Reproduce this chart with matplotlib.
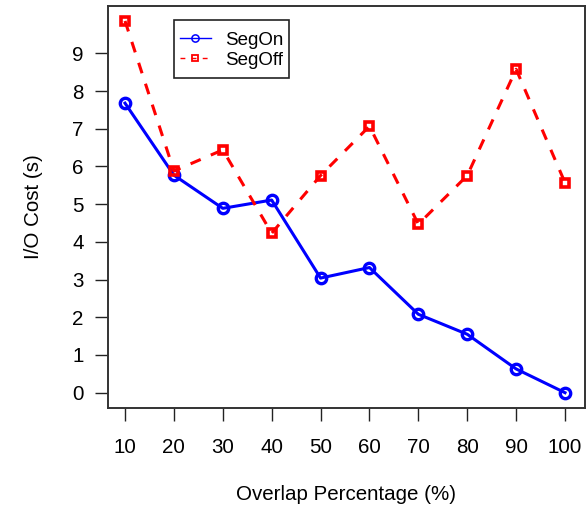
import matplotlib
matplotlib.use("Agg")
import matplotlib.pyplot as plt
from matplotlib.lines import Line2D
from matplotlib.path import Path

overlap = [10, 20, 30, 40, 50, 60, 70, 80, 90, 100]
seg_on = [7.68, 5.77, 4.89, 5.11, 3.04, 3.32, 2.08, 1.55, 0.63, 0.0]
seg_off = [9.86, 5.88, 6.44, 4.23, 5.76, 7.07, 4.47, 5.76, 8.58, 5.57]
yticks = list(range(0, 10))

plt.rcParams['font.family'] = ['Liberation Sans', 'DejaVu Sans']
FS = 14.8
LFS = 13.5

fig = plt.figure(figsize=(5.86, 5.12), dpi=100)
ax = fig.add_axes([108/586, 1-408/512, (585-108)/586, (408-6)/512])

ax.plot(overlap, seg_on, color='#0000ff', lw=2.2, marker='o', ms=7.5,
        mfc='none', mec='#0000ff', mew=2.4, clip_on=False, zorder=3)
ax.plot(overlap, seg_off, color='#ff0000', lw=2.2, ls=(0, (3.6, 3.6)), marker='s', ms=6.2,
        mfc='none', mec='#ff0000', mew=2.6, clip_on=False, zorder=3)

ax.set_xlim(6.52, 104.09)
ax.set_ylim(-0.406, 10.257)
ax.set_xticks(overlap)
ax.set_yticks(yticks)
ax.tick_params(axis='both', direction='out', length=9.5, width=1.0, labelsize=FS,
               color='#222222')
ax.tick_params(axis='x', pad=12)
ax.tick_params(axis='y', pad=8)
for s in ax.spines.values():
    s.set_linewidth(1.4)
    s.set_color('#333333')

ax.set_xlabel('Overlap Percentage (%)', fontsize=FS, labelpad=20)
ax.set_ylabel('I/O Cost (s)', fontsize=FS, labelpad=21)

handles = [
    Line2D([], [], color='#0000ff', lw=1.0, marker='o', ms=5.2, mfc='none', mew=1.1),
    Line2D([], [], color='#ff0000', lw=1.0, ls=(0, (3.5, 4.5)), marker='s', ms=4.6, mfc='none', mew=1.3),
]
DY = 5  # extra vertical frame padding in pixels
leg = ax.legend(handles, ['SegOn', 'SegOff'], loc='upper left',
                bbox_to_anchor=((174-108)/477, 1-(20+DY+1-6)/402), fontsize=LFS,
                frameon=True, fancybox=False, edgecolor='#222222', framealpha=1,
                borderpad=0.3, handlelength=1.65, handletextpad=0.75, labelspacing=0.15,
                borderaxespad=0)
leg.get_frame().set_linewidth(1.2)


def tall_box(x0, y0, width, height, mutation_size):
    x1, y1 = x0 + width, y0 + height
    y0 -= DY - 1
    y1 += DY + 1
    return Path([(x0, y0), (x1, y0), (x1, y1), (x0, y1), (x0, y0)],
                [Path.MOVETO, Path.LINETO, Path.LINETO, Path.LINETO, Path.CLOSEPOLY])


leg.legendPatch.set_boxstyle(tall_box)

fig.savefig('out.png', dpi=100)
